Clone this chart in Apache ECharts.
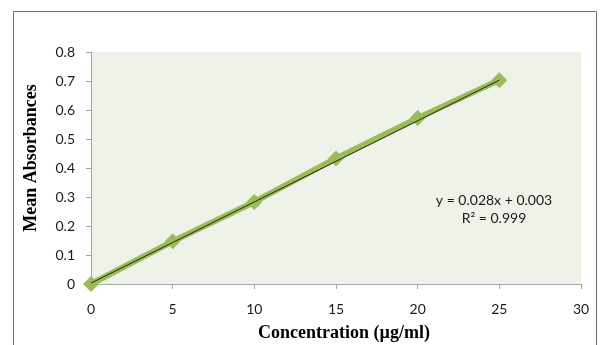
<!DOCTYPE html>
<html>
<head>
<meta charset="utf-8">
<script src="https://cdn.jsdelivr.net/npm/echarts@6/dist/echarts.min.js"></script>
<style>
  html, body { margin: 0; padding: 0; background: #fff; }
  #chart { width: 607px; height: 345px; }
</style>
</head>
<body>
<div id="chart"></div>
<script>
// measured points
let concentration = [0, 5, 10, 15, 20, 25];
let absorbance = [0, 0.147, 0.283, 0.433, 0.572, 0.703];
// linear trendline ends, y = 0.028x + 0.003
let trendX = [0, 25];
let trendY = [0.003, 0.703];
let equationLines = ['y = 0.028x + 0.003', 'R² = 0.999'];
let xTitle = 'Concentration (µg/ml)';
let yTitle = 'Mean Absorbances';

let chart = echarts.init(document.getElementById('chart'));

let labelFont = 'Lato, "Open Sans", sans-serif';
let titleFont = '"Liberation Serif", "Times New Roman", serif';

let option = {
    animation: false,
    grid: {
        left: 91,
        right: 26,
        top: 52,
        bottom: 61,
        outerBoundsMode: 'none',
        containLabel: false,
        show: true,
        backgroundColor: '#eff2e9',
        borderWidth: 0
    },
    xAxis: {
        type: 'value',
        min: 0,
        max: 30,
        interval: 5,
        splitLine: { show: false },
        axisLine: { lineStyle: { color: '#a6a6a6', width: 1 } },
        axisTick: { show: true, length: 5, lineStyle: { color: '#a6a6a6' } },
        axisLabel: { color: '#1a1a1a', fontSize: 14, fontFamily: labelFont, margin: 18 }
    },
    yAxis: {
        type: 'value',
        min: 0,
        max: 0.8,
        interval: 0.1,
        splitLine: { show: false },
        axisLine: { show: true, lineStyle: { color: '#a6a6a6', width: 1 } },
        axisTick: { show: true, length: 5, lineStyle: { color: '#a6a6a6' } },
        axisLabel: {
            color: '#1a1a1a', fontSize: 14, fontFamily: labelFont, margin: 16,
            formatter: v => String(Math.round(v * 10) / 10)
        }
    },
    series: [
        {
            type: 'line',
            data: concentration.map((x, i) => [x, absorbance[i]]),
            symbol: 'diamond',
            symbolSize: 16,
            itemStyle: { color: '#9bbb59' },
            lineStyle: { color: '#9bbb59', width: 6 },
            z: 2
        },
        {
            type: 'line',
            data: trendX.map((x, i) => [x, trendY[i]]),
            symbol: 'none',
            lineStyle: { color: '#1e2a12', width: 1 },
            z: 3
        }
    ],
    graphic: [
        {
            type: 'rect',
            shape: { x: 13.5, y: 11.5, width: 583, height: 360 },
            style: { fill: 'none', stroke: '#6b6b6b', lineWidth: 1 },
            silent: true
        },
        {
            type: 'text',
            x: 494,
            y: 191,
            style: {
                text: equationLines.join('\n'),
                fill: '#1a1a1a',
                font: '14px ' + labelFont,
                align: 'center',
                lineHeight: 18
            }
        },
        {
            type: 'text',
            x: 344,
            y: 333,
            style: {
                text: xTitle,
                fill: '#000',
                font: 'bold 18px ' + titleFont,
                align: 'center',
                verticalAlign: 'middle'
            }
        },
        {
            type: 'text',
            x: 31,
            y: 158,
            rotation: Math.PI / 2,
            style: {
                text: yTitle,
                fill: '#000',
                font: 'bold 18px ' + titleFont,
                align: 'center',
                verticalAlign: 'middle'
            }
        }
    ]
};

chart.setOption(option);
</script>
</body>
</html>
